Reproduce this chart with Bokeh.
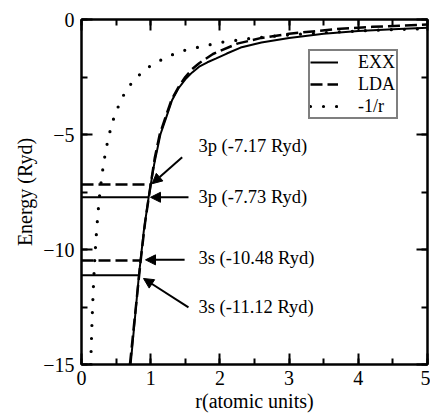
from bokeh.plotting import figure
from bokeh.models import (Range1d, LinearAxis, SingleIntervalTicker, Legend, LegendItem,
                          Arrow, NormalHead, ColumnDataSource, CustomJSTickFormatter)
from bokeh.core.properties import value
from bokeh.embed import file_html
from bokeh.resources import INLINE

FONT = "Liberation Serif, Times New Roman, serif"

# ---- data ----
exx_r = [0.71, 0.83, 0.90, 0.97, 1.05, 1.14, 1.22, 1.31, 1.40, 1.50, 1.60, 1.70, 1.82,
         1.94, 2.10, 2.30, 2.60, 3.00, 3.50, 4.00, 4.50, 5.00]
exx_e = [-15.0, -11.12, -9.2, -7.73, -6.3, -5.0, -4.3, -3.5, -3.0, -2.6, -2.3, -2.05, -1.86,
         -1.7, -1.48, -1.22, -1.0, -0.8, -0.62, -0.5, -0.42, -0.36]

lda_r = [0.70, 0.855, 0.92, 1.00, 1.06, 1.13, 1.22, 1.30, 1.40, 1.50, 1.60, 1.70, 1.90,
         2.25, 2.60, 3.00, 3.40, 3.74, 4.20, 5.00]
lda_e = [-15.0, -10.48, -8.8, -7.17, -6.0, -5.0, -4.2, -3.5, -2.95, -2.5, -2.15, -1.9, -1.5,
         -1.05, -0.8, -0.62, -0.5, -0.4, -0.32, -0.22]

inv_r = [0.133, 0.14, 0.15, 0.16, 0.17, 0.18, 0.20, 0.22, 0.25, 0.27, 0.30, 0.35, 0.40,
         0.45, 0.50, 0.60, 0.70, 0.80, 1.00, 1.25, 1.50, 2.00, 2.50, 3.00, 3.50, 4.00,
         4.50, 5.00]
inv_e = [-15.0, -14.3, -13.33, -12.5, -11.76, -11.1, -10.0, -9.1, -8.0, -7.4, -6.67, -5.7,
         -5.0, -4.44, -4.0, -3.33, -2.86, -2.5, -2.0, -1.6, -1.33, -1.0, -0.8, -0.67, -0.57,
         -0.5, -0.44, -0.4]

exx_levels = [-7.73, -11.12]
exx_level_end = [0.97, 0.83]
lda_levels = [-7.17, -10.48]
lda_level_end = [1.00, 0.855]

labels = ["3p (-7.17 Ryd)", "3p (-7.73 Ryd)", "3s (-10.48 Ryd)", "3s (-11.12 Ryd)"]
label_r = [1.69, 1.69, 1.69, 1.69]
label_e = [-5.48, -7.70, -10.39, -12.52]

arrow_r0 = [1.455, 1.546, 1.49, 1.546]
arrow_e0 = [-5.99, -7.73, -10.45, -12.52]
arrow_r1 = [1.02, 0.997, 0.925, 0.896]
arrow_e1 = [-7.14, -7.73, -10.45, -11.26]

x_ticks_interval = 1
y_ticks_interval = 5

# ---- figure ----
p = figure(frame_width=346, frame_height=345, output_backend="svg", toolbar_location=None,
           x_range=Range1d(0, 5), y_range=Range1d(-15, 0),
           min_border_left=81, min_border_top=19, min_border_right=3, min_border_bottom=50)
p.xgrid.visible = False
p.ygrid.visible = False
p.outline_line_color = "black"
p.outline_line_width = 2
p.background_fill_color = "white"

def style_axis(ax, labels_on=True):
    ax.axis_line_width = 2
    ax.axis_line_color = "black"
    ax.major_tick_in = 11
    ax.major_tick_out = 0
    ax.minor_tick_in = 6
    ax.minor_tick_out = 0
    ax.major_tick_line_width = 2
    ax.minor_tick_line_width = 2
    ax.major_tick_line_color = "black"
    ax.minor_tick_line_color = "black"
    if labels_on:
        ax.major_label_text_font = FONT
        ax.major_label_text_font_size = "20px"
        ax.major_label_text_color = "black"
        ax.axis_label_text_font = FONT
        ax.axis_label_text_font_size = "20px"
        ax.axis_label_text_font_style = "normal"
        ax.axis_label_text_color = "black"
    else:
        ax.formatter = CustomJSTickFormatter(code="return ''")
        ax.major_label_standoff = 0

xt = SingleIntervalTicker(interval=x_ticks_interval, num_minor_ticks=2)
yt = SingleIntervalTicker(interval=y_ticks_interval, num_minor_ticks=2)

p.xaxis.ticker = xt
p.yaxis.ticker = yt
style_axis(p.xaxis[0])
style_axis(p.yaxis[0])
p.xaxis.axis_label = "r(atomic units)"
p.yaxis.axis_label = "Energy (Ryd)"
p.xaxis.major_label_standoff = 6
p.yaxis.major_label_standoff = 7
p.xaxis.axis_label_standoff = 2
p.yaxis.axis_label_standoff = 4

top = LinearAxis(ticker=SingleIntervalTicker(interval=x_ticks_interval, num_minor_ticks=2))
style_axis(top, labels_on=False)
p.add_layout(top, "above")
right = LinearAxis(ticker=SingleIntervalTicker(interval=y_ticks_interval, num_minor_ticks=2))
style_axis(right, labels_on=False)
p.add_layout(right, "right")

# curves
r_exx = p.line(exx_r, exx_e, line_color="black", line_width=2)
r_lda = p.line(lda_r, lda_e, line_color="black", line_width=2.5, line_dash="12 5")
r_inv = p.line(inv_r, inv_e, line_color="black", line_width=3.2, line_dash="0 13",
               line_cap="round")

# levels
p.segment(x0=[0, 0], y0=exx_levels, x1=exx_level_end, y1=exx_levels,
          line_color="black", line_width=2)
p.segment(x0=[0, 0], y0=lda_levels, x1=lda_level_end, y1=lda_levels,
          line_color="black", line_width=2.5, line_dash="12 5")

# arrows
asrc = ColumnDataSource(dict(x0=arrow_r0, y0=arrow_e0, x1=arrow_r1, y1=arrow_e1))
p.add_layout(Arrow(x_start="x0", y_start="y0", x_end="x1", y_end="y1", source=asrc,
                   line_width=2, line_color="black",
                   end=NormalHead(size=10, fill_color="black", line_color="black",
                                  line_width=1)))

# labels
p.text(x=label_r, y=label_e, text=labels, text_font=value(FONT), text_font_size="18.5px",
       text_baseline="middle", text_align="left", text_color="black")

legend = Legend(items=[LegendItem(label="EXX", renderers=[r_exx]),
                       LegendItem(label="LDA", renderers=[r_lda]),
                       LegendItem(label="-1/r", renderers=[r_inv])],
                location=(227, 245))
legend.label_text_font = FONT
legend.label_text_font_size = "18px"
legend.label_text_color = "black"
legend.border_line_color = "black"
legend.border_line_width = 2
legend.background_fill_color = "white"
legend.background_fill_alpha = 1
legend.padding = 0
legend.spacing = 0
legend.margin = 0
legend.glyph_width = 28
legend.glyph_height = 22
legend.label_height = 22
legend.label_width = 38
legend.label_standoff = 20
p.add_layout(legend, "center")

open("out.html", "w").write(file_html(p, INLINE))
